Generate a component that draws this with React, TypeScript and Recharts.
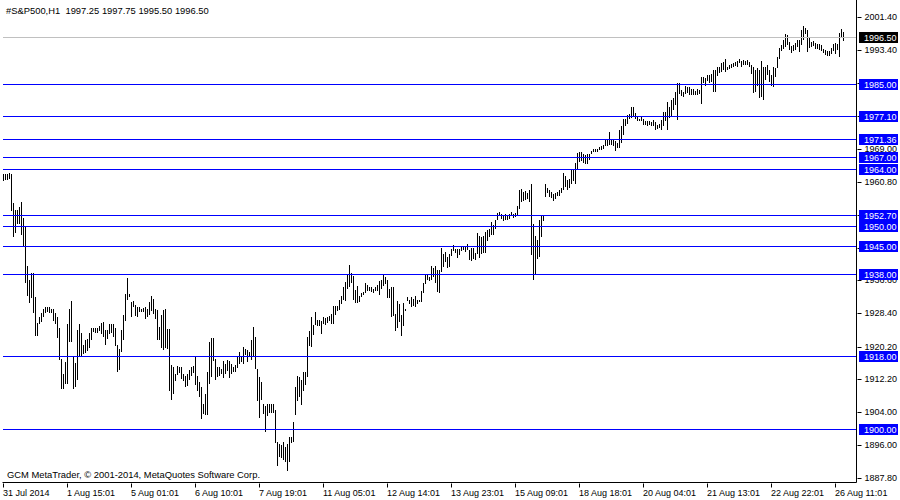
import React from "react";
import { Bar, ComposedChart, ReferenceLine, XAxis, YAxis } from "recharts";

const symbolTitle = "#S&P500,H1";
const lastOhlc = [1997.25, 1997.75, 1995.5, 1996.5];
const copyright = "GCM MetaTrader, © 2001-2014, MetaQuotes Software Corp.";

const timeLabels = [
  "31 Jul 2014", "1 Aug 15:01", "5 Aug 01:01", "6 Aug 10:01", "7 Aug 19:01",
  "11 Aug 05:01", "12 Aug 14:01", "13 Aug 23:01", "15 Aug 09:01", "18 Aug 18:01",
  "20 Aug 04:01", "21 Aug 13:01", "22 Aug 22:01", "26 Aug 11:01",
];
const barsPerLabel = 32;

const priceTicks = [
  2001.4, 1993.4, 1985.2, 1977.0, 1969.0, 1960.8, 1952.6, 1944.6,
  1936.6, 1928.4, 1920.2, 1912.2, 1904.0, 1896.0, 1887.8,
];
const levels = [1985.0, 1977.1, 1971.36, 1967.0, 1964.0, 1952.7, 1950.0, 1945.0, 1938.0, 1918.0, 1900.0];
const bidPrice = 1996.5;
const priceRange = [1886.86, 2005.72];

// H1 bars, oldest first
const highs = [
  1962.8, 1962.8, 1962.8, 1963.0, 1962.8, 1955.8, 1954.0, 1954.1, 1954.8, 1955.9,
  1951.9, 1949.9, 1940.2, 1936.7, 1938.4, 1938.4, 1932.6, 1926.2, 1927.7, 1928.5,
  1929.5, 1930.1, 1930.1, 1930.1, 1929.6, 1929.5, 1928.7, 1927.7, 1924.8, 1917.4,
  1913.7, 1916.5, 1926.0, 1929.6, 1931.5, 1917.8, 1916.3, 1924.4, 1926.0, 1923.8,
  1920.8, 1922.0, 1922.2, 1923.7, 1925.0, 1924.8, 1924.9, 1924.9, 1925.4, 1926.2,
  1926.3, 1924.5, 1924.4, 1926.0, 1926.0, 1925.9, 1924.8, 1920.7, 1919.7, 1924.4,
  1928.1, 1933.3, 1937.2, 1933.2, 1931.4, 1931.6, 1930.7, 1930.1, 1930.1, 1929.7,
  1929.9, 1930.1, 1929.6, 1931.4, 1932.7, 1932.1, 1929.7, 1929.3, 1925.2, 1928.0,
  1929.4, 1929.7, 1924.7, 1924.7, 1915.7, 1915.3, 1913.7, 1915.5, 1915.3, 1915.3,
  1913.7, 1913.2, 1913.7, 1914.5, 1915.3, 1915.5, 1917.9, 1913.2, 1911.6, 1910.5,
  1906.3, 1908.7, 1914.1, 1921.5, 1922.5, 1922.5, 1917.4, 1915.3, 1915.3, 1914.9,
  1916.9, 1916.1, 1917.1, 1916.9, 1916.1, 1915.3, 1915.9, 1917.8, 1919.0, 1917.8,
  1920.2, 1919.8, 1919.4, 1919.0, 1921.9, 1925.2, 1922.7, 1914.9, 1912.8, 1911.6,
  1906.3, 1905.8, 1906.3, 1906.1, 1906.3, 1906.1, 1904.6, 1896.8, 1896.4, 1896.0,
  1896.8, 1895.6, 1896.4, 1898.0, 1898.0, 1901.7, 1910.4, 1913.2, 1912.8, 1912.2,
  1914.1, 1914.1, 1922.7, 1924.3,
  1927.6, 1925.6, 1928.9, 1927.0, 1926.8, 1926.6, 1927.6, 1927.5, 1927.6, 1927.8,
  1928.3, 1930.3, 1930.3, 1930.3, 1931.7, 1932.7, 1934.9, 1936.3, 1937.9, 1940.4,
  1938.5, 1937.7, 1934.2, 1935.2, 1932.7, 1933.5, 1933.8, 1936.0, 1935.4, 1934.9,
  1935.0, 1934.6, 1935.0, 1935.4, 1936.5, 1936.8, 1937.9, 1937.6, 1936.7, 1934.6,
  1935.0, 1934.9, 1928.4, 1931.6, 1930.9, 1928.0, 1931.1, 1929.7, 1932.6, 1931.9,
  1932.6, 1932.1, 1932.7, 1931.9, 1931.7, 1934.0, 1935.9, 1938.2, 1938.3, 1937.5,
  1940.1, 1939.8, 1940.1, 1939.3, 1939.1, 1944.6, 1943.1, 1943.7, 1942.4, 1943.1,
  1944.5, 1945.3, 1944.5, 1944.5, 1944.5, 1944.9, 1945.1, 1944.9, 1945.5, 1944.1,
  1944.7, 1944.7, 1943.4, 1948.4, 1947.5, 1947.4, 1947.5, 1948.6, 1949.0, 1949.4,
  1951.1, 1950.2, 1951.6, 1953.3, 1953.4, 1953.1, 1952.7, 1953.0, 1952.7, 1953.1,
  1953.4, 1953.1, 1953.3, 1954.9, 1958.9, 1959.1, 1958.5, 1958.7, 1958.2, 1958.9,
  1960.3, 1950.6, 1947.5, 1946.5, 1951.5, 1952.5, 1952.5, 1960.5, 1959.4, 1959.0,
  1958.5, 1957.9, 1958.2, 1958.5, 1958.9, 1959.3, 1963.0, 1962.3, 1961.5, 1961.7,
  1964.0, 1963.8, 1965.6, 1968.1, 1968.3, 1968.3, 1967.7, 1967.5, 1967.9, 1967.7,
  1968.6, 1969.1, 1968.9, 1969.1, 1969.4, 1969.7, 1970.0, 1971.2, 1971.2, 1973.3,
  1971.6, 1971.4, 1971.0, 1970.4, 1973.8, 1974.7, 1976.3, 1976.5, 1977.4, 1977.6,
  1979.4, 1979.4, 1977.8, 1976.9, 1976.5,
  1976.8, 1976.4, 1976.0, 1975.9, 1975.9, 1975.7, 1976.1, 1975.7, 1974.9, 1975.1,
  1976.1, 1978.2, 1978.2, 1980.7, 1979.3, 1981.1, 1981.5, 1983.1, 1985.2, 1985.3,
  1983.5, 1983.1, 1984.5, 1984.4, 1984.4, 1983.9, 1983.7, 1983.4, 1983.7, 1983.5,
  1986.8, 1986.7, 1986.4, 1987.2, 1987.2, 1987.6, 1988.5, 1988.5, 1989.3, 1989.1,
  1990.3, 1990.5, 1991.3, 1989.3, 1989.7, 1989.9, 1990.3, 1990.5, 1990.8, 1991.1,
  1990.8, 1990.9, 1990.8, 1990.9, 1990.5, 1989.7, 1989.1, 1988.5, 1988.9, 1988.5,
  1990.8, 1989.3, 1989.1, 1989.7, 1988.5, 1987.2, 1989.3, 1988.9, 1991.7, 1994.0,
  1994.6, 1995.9, 1997.3, 1997.1, 1995.4, 1994.4, 1994.6, 1995.2, 1995.9, 1995.9,
  1998.3, 1999.3, 1998.7, 1998.3, 1996.3, 1995.4, 1995.7, 1995.2, 1995.0, 1994.9,
  1994.6, 1993.6, 1993.4, 1993.2, 1993.2, 1993.8, 1994.9, 1995.2, 1995.0, 1997.7,
  1998.5, 1997.75,
];

const lows = [
  1961.0, 1961.2, 1961.2, 1961.5, 1953.8, 1947.4, 1948.4, 1950.7, 1950.5, 1947.8,
  1944.9, 1936.0, 1932.9, 1931.0, 1932.2, 1928.6, 1923.1, 1923.1, 1926.0, 1926.4,
  1927.5, 1928.5, 1928.9, 1928.5, 1928.6, 1926.5, 1926.0, 1922.6, 1917.0, 1910.0,
  1910.0, 1911.2, 1911.2, 1921.5, 1921.3, 1910.0, 1910.4, 1912.0, 1917.8, 1917.8,
  1918.6, 1918.9, 1919.2, 1919.9, 1922.1, 1923.7, 1923.7, 1923.7, 1924.1, 1923.6,
  1922.7, 1920.8, 1922.2, 1923.6, 1923.7, 1922.6, 1920.3, 1914.1, 1914.5, 1919.0,
  1921.9, 1926.7, 1931.8, 1932.4, 1927.7, 1930.1, 1928.1, 1927.7, 1928.9, 1928.9,
  1928.9, 1927.2, 1927.7, 1928.1, 1928.9, 1928.4, 1927.2, 1921.9, 1921.9, 1919.8,
  1919.6, 1920.1, 1919.8, 1909.5, 1907.1, 1908.7, 1912.0, 1913.2, 1913.7, 1912.4,
  1912.0, 1910.4, 1910.8, 1912.0, 1913.2, 1913.7, 1910.8, 1909.5, 1907.9, 1902.6,
  1903.8, 1903.6, 1903.4, 1911.2, 1912.8, 1916.9, 1912.2, 1912.8, 1913.2, 1913.7,
  1912.8, 1913.7, 1914.5, 1912.8, 1913.7, 1914.1, 1914.1, 1915.1, 1916.1, 1916.5,
  1916.1, 1918.2, 1916.5, 1917.8, 1916.9, 1917.8, 1914.9, 1907.1, 1902.6, 1907.1,
  1903.8, 1899.3, 1903.4, 1903.8, 1904.2, 1903.8, 1896.4, 1891.0, 1893.1, 1892.7,
  1892.3, 1891.9, 1889.8, 1891.9, 1896.4, 1896.8, 1903.4, 1907.1, 1907.9, 1906.0,
  1909.5, 1910.8, 1912.8, 1920.6,
  1920.2, 1923.1, 1925.6, 1925.6, 1925.3, 1923.5, 1925.8, 1925.8, 1926.1, 1926.6,
  1925.8, 1925.8, 1928.0, 1929.1, 1929.3, 1930.8, 1931.7, 1931.6, 1934.4, 1935.0,
  1936.0, 1931.9, 1930.9, 1931.1, 1931.3, 1932.6, 1933.0, 1933.5, 1933.8, 1934.0,
  1933.8, 1933.5, 1934.0, 1934.0, 1933.0, 1934.6, 1935.2, 1935.9, 1932.2, 1932.4,
  1927.6, 1927.8, 1924.2, 1925.0, 1926.4, 1922.9, 1925.4, 1929.1, 1931.7, 1930.9,
  1930.1, 1930.3, 1930.1, 1930.9, 1931.1, 1931.3, 1933.4, 1935.7, 1936.7, 1936.5,
  1936.7, 1937.7, 1936.0, 1933.8, 1933.5, 1938.7, 1940.0, 1941.2, 1939.8, 1940.0,
  1942.8, 1943.7, 1943.4, 1942.4, 1943.1, 1943.9, 1944.1, 1943.7, 1943.9, 1941.6,
  1941.4, 1942.0, 1941.6, 1943.2, 1942.0, 1943.1, 1943.4, 1943.4, 1946.4, 1947.5,
  1947.8, 1947.8, 1949.4, 1951.5, 1952.3, 1951.9, 1951.3, 1951.6, 1951.5, 1951.9,
  1952.3, 1952.1, 1952.3, 1952.6, 1954.3, 1956.0, 1956.4, 1956.4, 1956.6, 1956.0,
  1942.7, 1936.7, 1937.9, 1941.8, 1942.4, 1947.4, 1951.3, 1957.4, 1958.1, 1957.2,
  1957.1, 1956.2, 1956.8, 1957.4, 1957.4, 1958.1, 1958.9, 1959.5, 1959.0, 1959.5,
  1960.4, 1961.2, 1960.4, 1963.8, 1965.9, 1966.1, 1965.4, 1965.3, 1965.4, 1966.3,
  1967.9, 1968.3, 1968.2, 1968.3, 1968.7, 1968.7, 1968.9, 1969.6, 1969.7, 1970.0,
  1970.0, 1969.7, 1968.6, 1969.2, 1969.4, 1970.4, 1972.4, 1974.7, 1975.3, 1976.3,
  1976.8, 1977.1, 1976.3, 1976.0, 1976.0,
  1975.7, 1974.9, 1975.1, 1974.7, 1974.9, 1974.7, 1974.5, 1973.8, 1973.8, 1974.1,
  1973.7, 1974.7, 1976.1, 1973.7, 1976.5, 1977.0, 1978.6, 1979.8, 1976.1, 1982.5,
  1982.1, 1981.9, 1982.5, 1982.9, 1982.5, 1982.3, 1982.3, 1982.5, 1982.3, 1982.5,
  1980.1, 1985.2, 1984.4, 1985.6, 1985.2, 1985.6, 1983.1, 1983.1, 1987.0, 1987.5,
  1988.1, 1988.5, 1988.1, 1988.5, 1988.6, 1988.9, 1989.3, 1989.4, 1989.3, 1990.1,
  1989.4, 1989.7, 1989.7, 1989.7, 1989.3, 1987.6, 1982.7, 1983.1, 1984.5, 1981.7,
  1981.9, 1981.2, 1986.0, 1987.2, 1985.6, 1984.4, 1984.4, 1986.8, 1989.1, 1991.3,
  1993.0, 1993.6, 1994.2, 1994.6, 1993.4, 1992.6, 1993.0, 1993.4, 1994.2, 1993.0,
  1994.6, 1995.9, 1997.1, 1993.0, 1993.8, 1994.2, 1994.4, 1993.8, 1993.8, 1993.4,
  1993.0, 1992.6, 1992.2, 1991.9, 1991.9, 1992.2, 1993.2, 1992.6, 1993.4, 1991.9,
  1996.5, 1995.5,
];

// empty slots on the right (chart shift)
const shiftBars = 6;

const FONT = "'Liberation Sans', Arial, sans-serif";

const barCount = Math.min(highs.length, lows.length);
const rows: { i: number; range: [number, number] | null }[] = [];
for (let i = 0; i < barCount; i++) rows.push({ i, range: [lows[i], highs[i]] });
for (let k = 0; k < shiftBars; k++) rows.push({ i: barCount + k, range: null });

const xTicks = timeLabels.map((_, k) => k * barsPerLabel);

// price tags are drawn as ticks after the plain ones so they cover them
const tagColor = new Map<number, string>([[bidPrice, "#000"], ...levels.map((lv) => [lv, "#0000ff"] as [number, string])]);
const yTicks = [...priceTicks, bidPrice, ...levels];

function HiLoBar(props: any) {
  const { x, y, width, height, payload } = props;
  if (!payload || !payload.range) return null;
  const cx = Math.floor(x + width / 2);
  const top = Math.round(Math.min(y, y + height));
  const h = Math.max(1, Math.round(Math.abs(height)));
  return <rect x={cx} y={top} width={1} height={h} fill="#000" shapeRendering="crispEdges" />;
}

function TimeTick(props: any) {
  const { x, y, payload } = props;
  const label = timeLabels[Math.round(payload.value / barsPerLabel)];
  const px = Math.floor(x) + 0.5;
  return (
    <g>
      <line x1={px} x2={px} y1={y + 1} y2={y + 5} stroke="#000" />
      <text x={Math.floor(x)} y={y + 13} fontSize={9} fontFamily={FONT} fill="#000">
        {label}
      </text>
    </g>
  );
}

function PriceTick(props: any) {
  const { x, y, payload } = props;
  const value = Number(payload.value);
  const cy = Math.floor(y);
  const fill = tagColor.get(value);
  if (fill) {
    const left = Math.round(x) + 2;
    return (
      <g>
        <rect x={left} y={cy - 5} width={39} height={11} fill={fill} />
        <text x={left + 5} y={cy + 3.5} fontSize={9} fontFamily={FONT} fill="#fff">
          {value.toFixed(2)}
        </text>
      </g>
    );
  }
  return (
    <g>
      <line x1={x + 1} x2={x + 5} y1={cy + 0.5} y2={cy + 0.5} stroke="#000" />
      <text x={x + 8} y={cy + 3} fontSize={9} fontFamily={FONT} fill="#000">
        {value.toFixed(2)}
      </text>
    </g>
  );
}

export default function App() {
  return (
    <div style={{ position: "absolute", left: 0, top: 0, width: 900, height: 500, background: "#fff" }}>
      <ComposedChart
        width={900}
        height={500}
        data={rows}
        margin={{ top: 0, right: 0.5, bottom: 0, left: 2.5 }}
        barCategoryGap={0}
      >
        <XAxis
          dataKey="i"
          ticks={xTicks}
          interval={0}
          height={17.5}
          tickSize={0}
          tickMargin={0}
          tickLine={false}
          axisLine={{ stroke: "#000" }}
          tick={<TimeTick />}
        />
        <YAxis
          yAxisId="frame"
          orientation="left"
          width={0}
          domain={priceRange}
          allowDataOverflow
          tick={false}
          tickLine={false}
          axisLine={{ stroke: "#000" }}
        />
        <YAxis
          yAxisId="p"
          orientation="right"
          width={43}
          domain={priceRange}
          allowDataOverflow
          ticks={yTicks}
          interval={0}
          tickSize={0}
          tickMargin={0}
          tickLine={false}
          axisLine={{ stroke: "#000" }}
          tick={<PriceTick />}
        />
        <Bar yAxisId="p" dataKey="range" shape={(p: any) => <HiLoBar {...p} />} isAnimationActive={false} />
        <ReferenceLine yAxisId="p" y={bidPrice} stroke="#c0c0c0" shapeRendering="crispEdges" />
        {levels.map((lv) => (
          <ReferenceLine key={lv} yAxisId="p" y={lv} stroke="#0000ff" shapeRendering="crispEdges" />
        ))}
      </ComposedChart>
      <svg
        width={900}
        height={500}
        style={{ position: "absolute", left: 0, top: 0, pointerEvents: "none" }}
      >
        <text x={6} y={14} fontSize={9.4} fontFamily={FONT} fill="#000" style={{ whiteSpace: "pre" }}>
          {`${symbolTitle}  ${lastOhlc.map((v) => v.toFixed(2)).join(" ")}`}
        </text>
        <text x={7} y={478} fontSize={9.4} fontFamily={FONT} fill="#000">
          {copyright}
        </text>
      </svg>
    </div>
  );
}
